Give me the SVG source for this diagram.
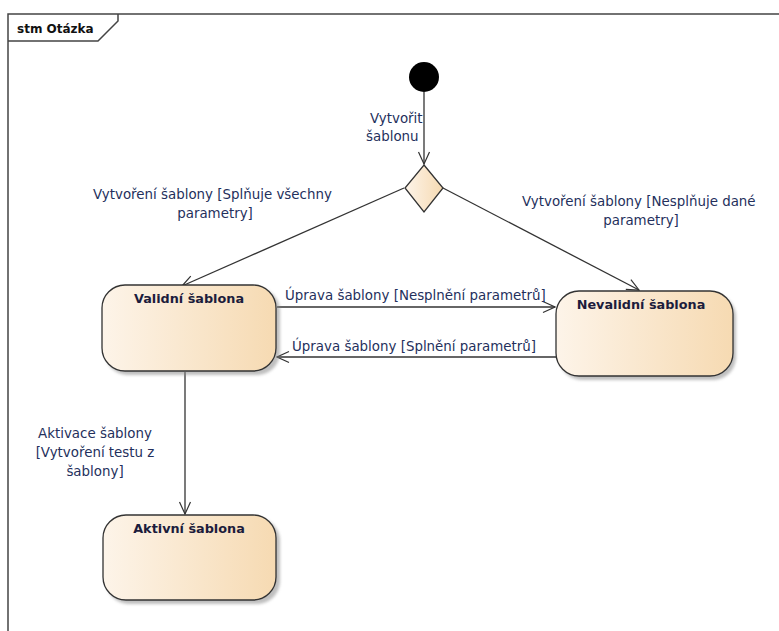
<svg xmlns="http://www.w3.org/2000/svg" width="779" height="631" viewBox="0 0 779 631">
  <defs>
    <linearGradient id="stateFill" x1="0" y1="0" x2="1" y2="0">
      <stop offset="0" stop-color="#fdf4e9"/>
      <stop offset="1" stop-color="#f6dab2"/>
    </linearGradient>
    <filter id="shadow" x="-10%" y="-10%" width="130%" height="130%">
      <feGaussianBlur stdDeviation="1.5"/>
    </filter>
    <marker id="open" viewBox="0 0 14 14" refX="13" refY="7" markerWidth="14" markerHeight="14" markerUnits="userSpaceOnUse" orient="auto">
      <path d="M1,1.5 L13,7 L1,12.5" fill="none" stroke="#333" stroke-width="1.2"/>
    </marker>
  </defs>
  <style>
    .frame { fill: none; stroke: #444; stroke-width: 1.5; }
    .state { fill: url(#stateFill); stroke: #333; stroke-width: 1.3; }
    .shade { fill: #8a8a8a; opacity: 0.55; filter: url(#shadow); }
    .title { font-family: "DejaVu Sans", sans-serif; font-weight: bold; font-size: 12.8px; fill: #1c1c3c; text-anchor: middle; }
    .label { font-family: "DejaVu Sans", sans-serif; font-size: 13.4px; fill: #24305c; }
    .edge { fill: none; stroke: #333; stroke-width: 1.3; marker-end: url(#open); }
  </style>

  <rect width="779" height="631" fill="#ffffff"/>

  <!-- frame and its name tab -->
  <g id="frame">
    <path class="frame" d="M8,631 L8,14 L779,14"/>
    <path class="frame" d="M8,41 L98,41 L118,21 L118,14"/>
    <text x="17" y="33" font-family="DejaVu Sans, sans-serif" font-weight="bold" font-size="12px" fill="#111">stm Otázka</text>
  </g>

  <!-- connectors -->
  <g id="connectors">
    <line class="edge" x1="424" y1="92" x2="424" y2="164"/>
    <line class="edge" x1="404" y1="188" x2="182" y2="286"/>
    <line class="edge" x1="443" y1="188" x2="639" y2="290"/>
    <line class="edge" x1="277" y1="307" x2="555" y2="307"/>
    <line class="edge" x1="556" y1="357" x2="277" y2="357"/>
    <line class="edge" x1="185" y1="372" x2="185" y2="514"/>

    <text class="label" x="370" y="123">Vytvořit</text>
    <text class="label" x="366" y="141">šablonu</text>
    <text class="label" x="93" y="199">Vytvoření šablony [Splňuje všechny</text>
    <text class="label" x="215" y="218" text-anchor="middle">parametry]</text>
    <text class="label" x="522" y="206">Vytvoření šablony [Nesplňuje dané</text>
    <text class="label" x="641" y="225" text-anchor="middle">parametry]</text>
    <text class="label" x="285" y="300">Úprava šablony [Nesplnění parametrů]</text>
    <text class="label" x="292" y="351">Úprava šablony [Splnění parametrů]</text>
    <text class="label" x="95" y="438" text-anchor="middle">Aktivace šablony</text>
    <text class="label" x="95" y="457" text-anchor="middle">[Vytvoření testu z</text>
    <text class="label" x="95" y="476" text-anchor="middle">šablony]</text>
  </g>

  <!-- initial pseudostate -->
  <g id="initial">
    <circle cx="424" cy="77" r="15" fill="#000"/>
  </g>

  <!-- decision -->
  <g id="decision">
    <polygon points="424,165 443,188 424,212 405,188" fill="url(#stateFill)" stroke="#333" stroke-width="1.3"/>
  </g>

  <g id="validni">
    <rect class="shade" x="105" y="288" width="175" height="87" rx="23"/>
    <rect class="state" x="102" y="285" width="174" height="86" rx="23"/>
    <text class="title" x="189" y="303">Validní šablona</text>
  </g>

  <g id="nevalidni">
    <rect class="shade" x="559" y="294" width="177" height="86" rx="23"/>
    <rect class="state" x="556" y="291" width="177" height="85" rx="23"/>
    <text class="title" x="641" y="309">Nevalidní šablona</text>
  </g>

  <g id="aktivni">
    <rect class="shade" x="106" y="518" width="174" height="86" rx="23"/>
    <rect class="state" x="103" y="515" width="173" height="85" rx="23"/>
    <text class="title" x="189" y="533">Aktivní šablona</text>
  </g>
</svg>
